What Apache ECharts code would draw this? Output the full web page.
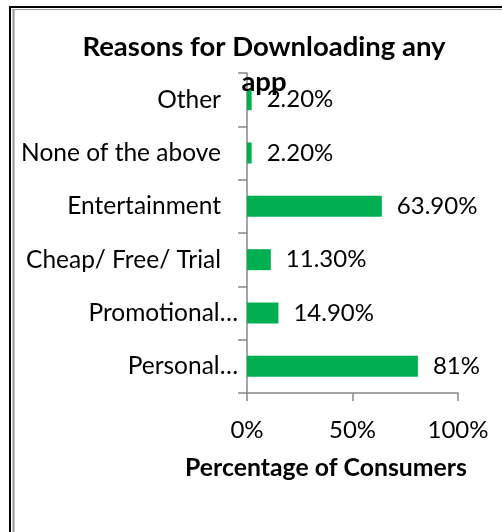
<!DOCTYPE html>
<html>
<head>
<meta charset="utf-8">
<script src="https://cdn.jsdelivr.net/npm/echarts@6/dist/echarts.min.js"></script>
<style>
  html, body { margin: 0; padding: 0; background: #fff; }
  #chart { width: 502px; height: 532px; }
</style>
</head>
<body>
<div id="chart"></div>
<script>
// Reasons, listed from the bottom bar to the top bar
const categories = ['Personal…', 'Promotional…', 'Cheap/ Free/ Trial', 'Entertainment', 'None of the above', 'Other'];
// Share of consumers, in percent
const shares = [81, 14.9, 11.3, 63.9, 2.2, 2.2];
const xTicks = [0, 50, 100];

const FONT = 'Lato';
const chart = echarts.init(document.getElementById('chart'), null, { renderer: 'canvas' });

function pct(v) {
  return Number.isInteger(v) ? v + '%' : v.toFixed(2) + '%';
}

// shortened names sit closer to the axis than the full ones
const categoryItems = categories.map(name => ({
  value: name,
  textStyle: { padding: [0, name.endsWith('…') ? 0 : 17, 0, 0] }
}));

chart.setOption({
  backgroundColor: '#ffffff',
  animation: false,
  title: {
    text: 'Reasons for Downloading any\napp',
    left: 259,
    top: 25,
    textAlign: 'center',
    textStyle: {
      fontFamily: FONT, fontWeight: 'bold', fontSize: 27.5, lineHeight: 35, color: '#000'
    }
  },
  grid: { left: 247, right: 44, top: 73, bottom: 139, containLabel: false },
  xAxis: {
    type: 'value',
    min: xTicks[0],
    max: xTicks[xTicks.length - 1],
    interval: 50,
    axisLine: { show: true, lineStyle: { color: '#868686', width: 1.5 } },
    axisTick: { show: true, length: 8, lineStyle: { color: '#868686', width: 1.5 } },
    splitLine: { show: false },
    axisLabel: {
      formatter: v => v + '%',
      margin: 25,
      fontFamily: FONT, fontSize: 24, color: '#000'
    }
  },
  yAxis: {
    type: 'category',
    data: categoryItems,
    axisLine: { show: true, lineStyle: { color: '#868686', width: 1.5 } },
    axisTick: { show: true, length: 9, alignWithLabel: false, lineStyle: { color: '#868686', width: 1.5 } },
    axisLabel: { margin: 9, fontFamily: FONT, fontSize: 24.5, color: '#000' }
  },
  series: [{
    type: 'bar',
    data: shares,
    barWidth: 21,
    itemStyle: { color: '#00B050' },
    label: {
      show: true,
      position: 'right',
      distance: 15,
      formatter: p => pct(p.value),
      fontFamily: FONT, fontSize: 24, color: '#000'
    }
  }],
  graphic: [
    // x-axis title
    {
      type: 'text', x: 326, y: 468,
      style: {
        text: 'Percentage of Consumers',
        textAlign: 'center', textVerticalAlign: 'middle',
        fontFamily: FONT, fontWeight: 'bold', fontSize: 24.8, fill: '#000'
      }
    },
    // outer frame: dark rule with a grey inner rule, top and left
    { type: 'rect', shape: { x: 9, y: 6, width: 493, height: 2 }, style: { fill: '#000' }, silent: true },
    { type: 'rect', shape: { x: 9, y: 6, width: 2, height: 526 }, style: { fill: '#000' }, silent: true },
    { type: 'rect', shape: { x: 12.5, y: 9, width: 489.5, height: 1 }, style: { fill: '#999' }, silent: true },
    { type: 'rect', shape: { x: 12.5, y: 9, width: 2, height: 523 }, style: { fill: '#999' }, silent: true }
  ]
});
</script>
</body>
</html>
